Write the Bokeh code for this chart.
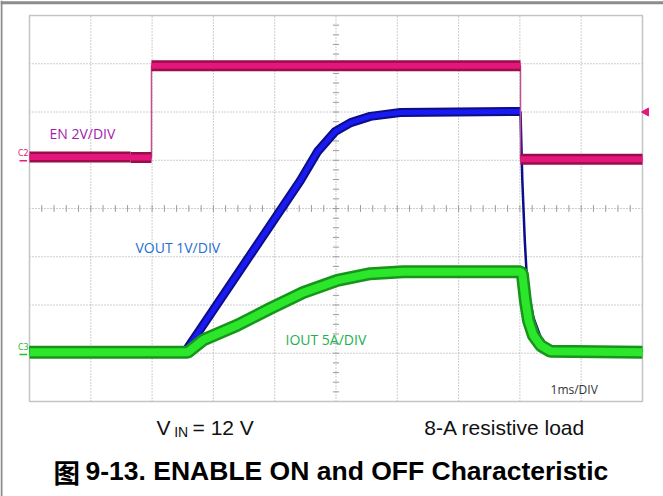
import numpy as np
from bokeh.plotting import figure
from bokeh.models import Range1d, Label
from bokeh.embed import file_html
from bokeh.resources import INLINE

# ---------------- data (time in ms, level in divisions; 0 = bottom graticule) ----------------
en_t = [0.0, 1.65, 1.65, 1.99, 1.99, 8.01, 8.01, 10.0]
en_v = [5.07, 5.07, 5.055, 5.055, 6.96, 6.96, 5.02, 5.02]

vout_t = [0.0, 2.55, 3.44, 4.42, 4.70, 4.99, 5.24, 5.56, 6.05, 8.01]
vout_v = [1.05, 1.05, 2.73, 4.58, 5.18, 5.60, 5.78, 5.91, 5.99, 6.01]

vfall_t = [8.01, 8.04, 8.08, 8.12, 8.22, 8.34, 8.47, 8.66, 10.0]
vfall_v = [6.01, 4.58, 3.34, 2.41, 1.74, 1.33, 1.12, 1.05, 1.05]

iout_t = [0.0, 2.58, 2.84, 3.39, 3.93, 4.47, 5.02, 5.56, 6.10, 8.01, 8.04, 8.09, 8.14, 8.22, 8.34, 8.50, 10.0]
iout_v = [1.02, 1.02, 1.28, 1.58, 1.93, 2.26, 2.51, 2.65, 2.69, 2.69, 2.65, 2.09, 1.68, 1.37, 1.16, 1.04, 1.02]

x_div = [0, 1, 2, 3, 4, 5, 6, 7, 8, 9, 10]
y_div = [0, 1, 2, 3, 4, 5, 6, 7, 8]

labels = ["EN 2V/DIV", "VOUT 1V/DIV", "IOUT 5A/DIV", "1ms/DIV"]
caption_left = ["V", "IN", "= 12 V"]
caption_right = "8-A resistive load"
title_cjk = "图"
title_rest = "9-13. ENABLE ON and OFF Characteristic"

# ---------------- figure ----------------
W, H = 663, 496
X0, X1, Y0, Y1 = -0.4731, 10.343, -1.969, 8.311
p = figure(width=W, height=H, output_backend="svg", toolbar_location=None,
           x_range=Range1d(X0, X1), y_range=Range1d(Y0, Y1),
           min_border=0, outline_line_color=None)
p.axis.visible = False
p.grid.visible = False
p.background_fill_color = "white"
p.border_fill_color = "white"

# outer page border (left and top)
p.segment(x0=[X0], y0=[8.265], x1=[X1], y1=[8.265], line_color="#8c8c8c", line_width=3)
p.segment(x0=[-0.457], y0=[Y0], x1=[-0.457], y1=[Y1], line_color="#8c8c8c", line_width=2)

grid_col = "#9c9c9c"
# graticule (dotted)
p.segment(x0=x_div[1:-1], y0=[y_div[0]] * 9, x1=x_div[1:-1], y1=[y_div[-1]] * 9,
          line_color=grid_col, line_dash="1 2", line_width=1)
p.segment(x0=[x_div[0]] * 7, y0=y_div[1:-1], x1=[x_div[-1]] * 7, y1=y_div[1:-1],
          line_color=grid_col, line_dash="1 2", line_width=1)
# minor ticks on center lines
minor_y = [k * 0.2 for k in range(41)]
minor_x = [k * 0.2 for k in range(51)]
p.segment(x0=[4.95] * len(minor_y), y0=minor_y, x1=[5.05] * len(minor_y), y1=minor_y,
          line_color=grid_col, line_width=1)
p.segment(x0=minor_x, y0=[3.93] * len(minor_x), x1=minor_x, y1=[4.07] * len(minor_x),
          line_color=grid_col, line_width=1)
# frame
p.quad(left=[0], right=[10], bottom=[0], top=[8], fill_color=None,
       line_color="#c4c4c4", line_width=1.5)

# ---------------- traces ----------------
# VOUT (blue)
p.line(vfall_t, vfall_v, line_color="#0c0c8c", line_width=2.5)
p.line(vout_t, vout_v, line_color="#0d0d86", line_width=9)
p.line(vout_t, vout_v, line_color="#1a1af2", line_width=5)

# IOUT (green)
p.line(iout_t, iout_v, line_color="#16951a", line_width=13)
p.line(iout_t, iout_v, line_color="#2be62b", line_width=8)

# EN (magenta)
p.line(en_t, en_v, line_color="#c0508c", line_width=1.5)
hs_x0, hs_x1, hs_y = [], [], []
for i in range(len(en_t) - 1):
    if en_v[i] == en_v[i + 1]:
        hs_x0.append(en_t[i]); hs_x1.append(en_t[i + 1]); hs_y.append(en_v[i])
p.segment(x0=hs_x0, y0=hs_y, x1=hs_x1, y1=hs_y, line_color="#980d4a", line_width=11)
p.segment(x0=hs_x0, y0=hs_y, x1=hs_x1, y1=hs_y, line_color="#e3167c", line_width=6)

# channel markers
p.segment(x0=[-0.163], y0=[4.99], x1=[-0.04], y1=[4.99], line_color="#e0207a", line_width=1.5)
p.segment(x0=[-0.163], y0=[0.975], x1=[-0.04], y1=[0.975], line_color="#22c022", line_width=1.5)
p.scatter(x=[10.06], y=[6.0], marker="triangle", angle=np.pi / 2, size=8,
          fill_color="#e3167c", line_color="#e3167c")

# ---------------- labels ----------------
def lab(x, y, text, color, size, font="Open Sans", style="normal", baseline="middle", align="left"):
    p.add_layout(Label(x=x, y=y, text=text, text_color=color, text_font_size=size,
                       text_font=font, text_font_style=style, text_baseline=baseline,
                       text_align=align))

lab(-0.10, 5.14, "C2", "#e0207a", "8px", "DejaVu Sans", align="center")
lab(-0.10, 1.12, "C3", "#22c022", "8px", "DejaVu Sans", align="center")

lab(0.326, 5.55, labels[0], "#a21caf", "14px")
lab(1.729, 3.19, labels[1], "#1e6fd2", "14px")
lab(4.176, 1.285, labels[2], "#22b04c", "14px")
lab(8.50, 0.249, labels[3], "#333333", "12px")

cap_font = "Liberation Sans"
lab(2.07, -0.54, caption_left[0], "#111111", "21px", cap_font)
lab(2.36, -0.64, caption_left[1], "#111111", "14px", cap_font)
lab(2.66, -0.54, caption_left[2], "#111111", "21px", cap_font)
lab(6.44, -0.54, caption_right, "#111111", "21px", cap_font)

lab(0.392, -1.45, title_cjk, "#000000", "26.5px", "Noto Sans CJK SC", "bold")
lab(0.914, -1.45, title_rest, "#000000", "26.5px", cap_font, "bold")

open("out.html", "w").write(file_html(p, INLINE))
